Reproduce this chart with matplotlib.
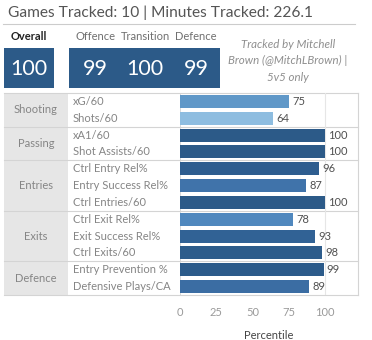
import matplotlib
matplotlib.use("Agg")
import matplotlib.pyplot as plt
from matplotlib.patches import Rectangle
from matplotlib.colors import LinearSegmentedColormap, Normalize

plt.rcParams['font.family'] = ['Lato', 'DejaVu Sans']

title = "Games Tracked: 10 | Minutes Tracked: 226.1"
summary_labels = ["Overall", "Offence", "Transition", "Defence"]
summary_values = [100, 99, 100, 99]
note_lines = ["Tracked by Mitchell", "Brown (@MitchLBrown) |", "5v5 only"]

groups = ["Shooting", "Passing", "Entries", "Exits", "Defence"]
group_sizes = [2, 2, 3, 3, 2]
metrics = ["xG/60", "Shots/60", "xA1/60", "Shot Assists/60",
           "Ctrl Entry Rel%", "Entry Success Rel%", "Ctrl Entries/60",
           "Ctrl Exit Rel%", "Exit Success Rel%", "Ctrl Exits/60",
           "Entry Prevention %", "Defensive Plays/CA"]
values = [75, 64, 100, 100, 96, 87, 100, 78, 93, 98, 99, 89]
xticks = [0, 25, 50, 75, 100]
xlabel = "Percentile"

W, H = 372, 340
fig = plt.figure(figsize=(W / 100, H / 100), dpi=100)
bg = fig.add_axes([0, 0, 1, 1])
bg.set_xlim(0, W)
bg.set_ylim(H, 0)
bg.axis('off')

box_color = "#2c5a88"
# title
bg.text(8, 13, title, fontsize=11.2, color="#555555", va='center', ha='left')
bg.plot([3, 355], [23.5, 23.5], color="#cccccc", lw=0.8)

# summary boxes
bg.add_patch(Rectangle((4, 48), 50, 40, color=box_color, lw=0))
bg.add_patch(Rectangle((69, 48), 151, 40, color=box_color, lw=0))
centers = [29, 95, 145, 196]
for i, (lab, v, cx) in enumerate(zip(summary_labels, summary_values, centers)):
    bg.text(cx, 36, lab, fontsize=8, color="#222222" if i == 0 else "#707070",
            fontweight='bold' if i == 0 else 'normal', ha='center', va='center')
    bg.text(cx, 69, str(v), fontsize=15.5, color="white", ha='center', va='center')
for j, line in enumerate(note_lines):
    bg.text(288, 44.5 + j * 16.3, line, fontsize=8.3, color="#8f8f8f", style='italic',
            ha='center', va='center')

# table
top, bottom = 93, 295
n = len(metrics)
rh = (bottom - top) / n
bg.add_patch(Rectangle((4, top), 64, bottom - top, color="#e6e6e6", lw=0, zorder=0))
grid_c = "#d4d4d4"
bg.plot([4, 358], [top, top], color=grid_c, lw=0.8)
bg.plot([4, 358], [bottom, bottom], color=grid_c, lw=0.8)
bg.plot([358, 358], [top, bottom], color=grid_c, lw=0.8)
bg.plot([180, 180], [top, bottom], color=grid_c, lw=0.6)
r = 0
for g, s in zip(groups, group_sizes):
    y0 = top + r * rh
    y1 = top + (r + s) * rh
    bg.text(36, (y0 + y1) / 2, g, fontsize=8, color="#858585", ha='center', va='center')
    if r > 0:
        bg.plot([4, 358], [y0, y0], color=grid_c, lw=0.8)
    r += s
for i, m in enumerate(metrics):
    bg.text(73, top + (i + 0.5) * rh, m, fontsize=8, color="#858585", ha='left', va='center')

# bars
x0, x1 = 180, 358
scale = (325 - 180) / 100.0
ax = fig.add_axes([x0 / W, 1 - bottom / H, (x1 - x0) / W, (bottom - top) / H])
ax.patch.set_alpha(0)
ax.set_xlim(0, (x1 - x0) / scale)
ax.set_ylim(n - 0.5, -0.5)
cmap = LinearSegmentedColormap.from_list(
    "b", [(0.0, "#9ccae8"), (0.1, "#8ebde0"), (0.375, "#6098c8"), (0.45, "#5088be"),
          (0.675, "#4073aa"), (0.85, "#2f5f92"), (1.0, "#2c5a88")])
norm = Normalize(vmin=60, vmax=100, clip=True)
ypos = list(range(n))
ax.barh(ypos, values, height=0.78, color=[cmap(norm(v)) for v in values], zorder=2)
for y, v in zip(ypos, values):
    ax.text(v + 2.2, y, str(v), fontsize=8, color="#505050", va='center', ha='left')
ax.axvline(100, color="#e6e6e6", lw=0.8, zorder=1)
for sp in ax.spines.values():
    sp.set_visible(False)
ax.set_yticks([])
ax.set_xticks(xticks)
ax.set_xticklabels([str(t) for t in xticks], fontsize=8, color="#9a9a9a")
ax.tick_params(axis='x', length=0, pad=9)
ax.set_xlabel(xlabel, fontsize=8, color="#444444", labelpad=8)

fig.savefig("out.png", dpi=100)
